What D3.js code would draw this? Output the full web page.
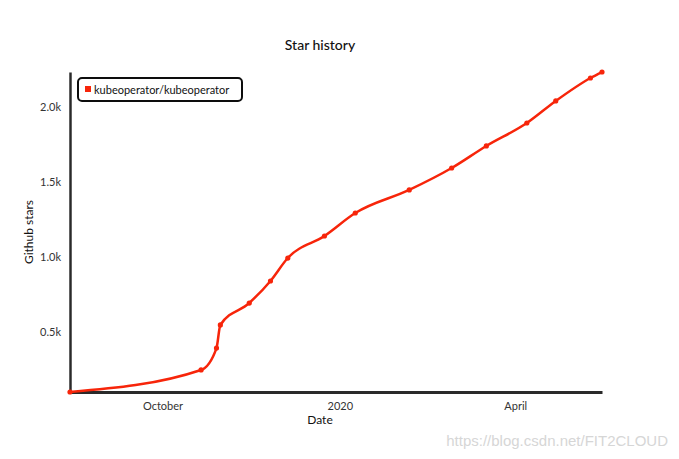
<!DOCTYPE html>
<html>
<head>
<meta charset="utf-8">
<script src="https://cdn.jsdelivr.net/npm/d3@7"></script>
<style>
  html, body { margin: 0; padding: 0; background: #fff; }
  svg { display: block; }
  text { font-family: "Lato", "Open Sans", sans-serif; }
</style>
</head>
<body>
<svg id="chart" width="679" height="459"></svg>
<script>
// ---- data ----
const dates = ["2019-08-14","2019-10-21","2019-10-29","2019-10-31","2019-11-15","2019-11-26",
  "2019-12-05","2019-12-24","2020-01-09","2020-02-06","2020-02-28","2020-03-17",
  "2020-04-07","2020-04-22","2020-05-10","2020-05-16"];
const stars = [100, 247, 393, 547, 693, 840, 993, 1140, 1293, 1447, 1593, 1740, 1893, 2040, 2193, 2233];
const seriesName = "kubeoperator/kubeoperator";
const yTickValues = [500, 1000, 1500, 2000];
const yTickLabels = ["0.5k", "1.0k", "1.5k", "2.0k"];
const xTickDates = ["2019-10-01", "2020-01-01", "2020-04-01"];
const xTickLabels = ["October", "2020", "April"];
const titleText = "Star history";
const xLabel = "Date";
const yLabel = "Github stars";
const watermark = "https://blog.csdn.net/FIT2CLOUD";

(function () {
const parse = d3.utcParse("%Y-%m-%d");
const data = dates.map((d, i) => ({ date: parse(d), value: stars[i] }));

const svg = d3.select("#chart");
const mLeft = 70, mRight = 602, mTop = 72, mBottom = 392;
const red = "#f7250a";
const axisColor = "#2b2b2b";

// hand-drawn filter
const defs = svg.append("defs");
const f = defs.append("filter").attr("id", "xkcdify").attr("filterUnits", "userSpaceOnUse")
  .attr("x", -5).attr("y", -5).attr("width", 690).attr("height", 470);
f.append("feTurbulence").attr("type", "fractalNoise").attr("baseFrequency", 0.04).attr("result", "noise");
f.append("feDisplacementMap").attr("scale", 2).attr("xChannelSelector", "R").attr("yChannelSelector", "G")
  .attr("in", "SourceGraphic").attr("in2", "noise");

const x = d3.scaleUtc().domain(d3.extent(data, d => d.date)).range([mLeft, mRight]);
const y = d3.scaleLinear().domain(d3.extent(data, d => d.value)).range([mBottom, mTop]);

// title
svg.append("text").attr("x", 320).attr("y", 50).attr("text-anchor", "middle")
  .attr("font-size", 14).attr("font-weight", 500).attr("fill", "#111").text(titleText);

// axes
const gx = svg.append("g").attr("transform", `translate(0,${mBottom})`)
  .call(d3.axisBottom(x).tickValues(xTickDates.map(parse)).tickSize(0).tickSizeOuter(0).tickPadding(10)
    .tickFormat((d, i) => xTickLabels[i]));
gx.select(".domain").attr("stroke", axisColor).attr("stroke-width", 3).attr("filter", "url(#xkcdify)");
gx.selectAll("text").attr("font-size", 11).attr("fill", "#333")
  .style("font-family", '"Lato", "Open Sans", sans-serif');

const gy = svg.append("g").attr("transform", `translate(${mLeft},0)`)
  .call(d3.axisLeft(y).tickValues(yTickValues).tickSize(0).tickSizeOuter(0).tickPadding(9)
    .tickFormat((d, i) => yTickLabels[i]));
gy.select(".domain").attr("stroke", axisColor).attr("stroke-width", 2.5).attr("filter", "url(#xkcdify)");
gy.selectAll("text").attr("font-size", 11).attr("fill", "#333")
  .style("font-family", '"Lato", "Open Sans", sans-serif');

// axis labels
svg.append("text").attr("x", 320).attr("y", 424).attr("text-anchor", "middle")
  .attr("font-size", 12).attr("fill", "#111").text(xLabel);
svg.append("text").attr("transform", `translate(33,${(mTop + mBottom) / 2}) rotate(-90)`)
  .attr("text-anchor", "middle").attr("font-size", 12).attr("fill", "#111").text(yLabel);

// line
const line = d3.line().x(d => x(d.date)).y(d => y(d.value)).curve(d3.curveMonotoneX);
svg.append("path").datum(data).attr("d", line).attr("fill", "none")
  .attr("stroke", red).attr("stroke-width", 2.5).attr("stroke-linecap", "round")
  .attr("stroke-linejoin", "round");
svg.append("g").selectAll("circle").data(data).join("circle")
  .attr("cx", d => x(d.date)).attr("cy", d => y(d.value)).attr("r", 2.6).attr("fill", red);

// legend
const lg = svg.append("g");
lg.append("rect").attr("x", 78).attr("y", 78).attr("width", 164).attr("height", 23).attr("rx", 4)
  .attr("fill", "#fff").attr("stroke", "#111").attr("stroke-width", 2).attr("filter", "url(#xkcdify)");
lg.append("rect").attr("x", 85).attr("y", 86).attr("width", 6).attr("height", 6).attr("fill", red);
lg.append("text").attr("x", 94).attr("y", 93.5).attr("font-size", 11).attr("fill", "#111")
  .text(seriesName);

// watermark
svg.append("text").attr("x", 668).attr("y", 446).attr("text-anchor", "end")
  .attr("font-size", 15).attr("fill", "#d6d6d6")
  .style("font-family", '"Liberation Sans", Arial, sans-serif').text(watermark);
})();
</script>
</body>
</html>
